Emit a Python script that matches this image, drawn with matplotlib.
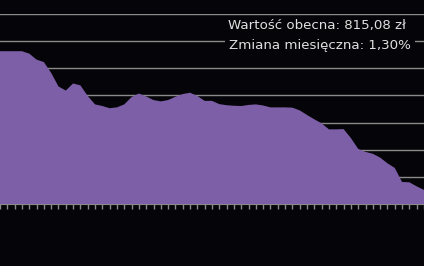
import numpy as np
import matplotlib
matplotlib.use("Agg")
import matplotlib.pyplot as plt
from matplotlib.ticker import MultipleLocator
from matplotlib.patches import Rectangle

values = [563, 563, 563, 563, 554, 532, 523, 483, 433, 418,
          444, 437, 398, 367, 361, 353, 356, 367, 394, 407,
          396, 383, 378, 383, 395, 405, 410, 398, 380, 380,
          368, 364, 362, 361, 365, 367, 363, 356, 356, 356,
          355, 345, 328, 312, 297, 275, 275, 276, 243, 203,
          192, 185, 171, 150, 133, 81, 80, 65, 52]
label_value = "Wartość obecna: 815,08 zł"
label_change = "Zmiana miesięczna: 1,30%"

bg = "#050408"
fill_color = "#7d5fa8"
grid_color = "#8a8a8a"
W, H = 424, 266

fig = plt.figure(figsize=(W / 100, H / 100), dpi=100, facecolor=bg)
ax = fig.add_axes([0, 62 / H, 1, 190 / H], facecolor=bg)

x = np.arange(len(values))
ax.fill_between(x, 0, values, color=fill_color, linewidth=0, zorder=2)

ax.set_xlim(0, len(values) - 1)
ax.set_ylim(0, 700)
ax.yaxis.set_major_locator(MultipleLocator(100))
ax.xaxis.set_major_locator(MultipleLocator(1))
ax.grid(axis="y", color=grid_color, linewidth=1.0, zorder=0)
ax.set_axisbelow(True)
for s in ["top", "left", "right"]:
    ax.spines[s].set_visible(False)
ax.spines["bottom"].set_color(grid_color)
ax.spines["bottom"].set_zorder(1)
ax.tick_params(axis="x", direction="out", length=3.5, width=1, color=grid_color,
               labelbottom=False)
ax.tick_params(axis="y", left=False, labelleft=False)

fig.patches.append(Rectangle((225 / W, 1 - 58 / H), 190 / W, 40 / H,
                             transform=fig.transFigure, facecolor=bg,
                             edgecolor="none", zorder=4))
fig.text(228 / W, 1 - 26 / H, label_value, color="#e0e0e0", fontsize=9.6,
         ha="left", va="center", zorder=5)
fig.text(229 / W, 1 - 46 / H, label_change, color="#e0e0e0", fontsize=9.6,
         ha="left", va="center", zorder=5)

fig.savefig("out.png", dpi=100, facecolor=bg)
